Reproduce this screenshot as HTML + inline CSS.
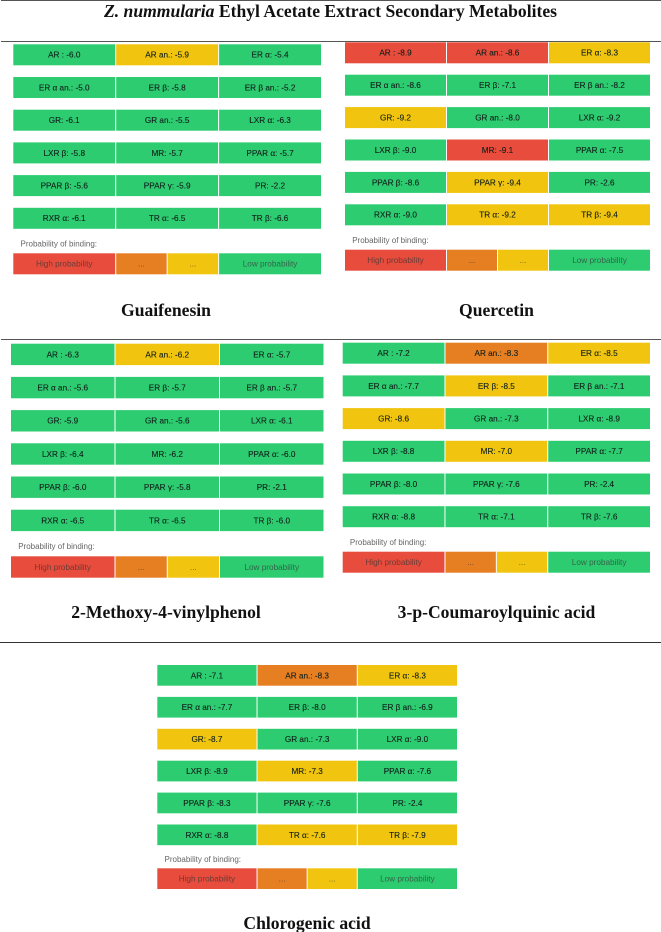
<!DOCTYPE html>
<html lang="en">
<head>
<meta charset="utf-8">
<title>Z. nummularia Ethyl Acetate Extract Secondary Metabolites</title>
<style>
html,body{margin:0;padding:0;background:#fff;width:661px;height:932px;overflow:hidden}
svg{display:block;filter:blur(.3px)}
.heading{font-family:"Liberation Serif",serif;font-weight:700;fill:#111;text-anchor:middle}
.cell-text{font-family:"Liberation Sans",sans-serif;font-size:8.2px;fill:#10201a;stroke:#10201a;stroke-width:.12px;text-anchor:middle}
.legend-text{font-family:"Liberation Sans",sans-serif;font-size:8.2px;fill:#333;fill-opacity:.68;text-anchor:middle}
.legend-title{font-family:"Liberation Sans",sans-serif;font-size:8px;fill:#666}
</style>
</head>
<body>
<svg id="figure" width="661" height="932" viewBox="0 0 661 932" xmlns="http://www.w3.org/2000/svg">
  <rect x="1" y="0" width="660" height="1" fill="#555"/>
  <text class="heading" x="330.5" y="17" font-size="17.6"><tspan font-style="italic">Z. nummularia</tspan> Ethyl Acetate Extract Secondary Metabolites</text>
  <rect x="1" y="41" width="660" height="1" fill="#555"/>
  <rect x="1" y="339" width="660" height="1" fill="#555"/>
  <rect x="0" y="642" width="661" height="1" fill="#333"/>
</svg>
<script>
const receptors = ["AR :","AR an.:","ER α:","ER α an.:","ER β:","ER β an.:","GR:","GR an.:","LXR α:","LXR β:","MR:","PPAR α:","PPAR β:","PPAR γ:","PR:","RXR α:","TR α:","TR β:"];
const compounds = ["Guaifenesin","Quercetin","2-Methoxy-4-vinylphenol","3-p-Coumaroylquinic acid","Chlorogenic acid"];

const guaifenesinScores = [-6.0,-5.9,-5.4,-5.0,-5.8,-5.2,-6.1,-5.5,-6.3,-5.8,-5.7,-5.7,-5.6,-5.9,-2.2,-6.1,-6.5,-6.6];
const quercetinScores = [-8.9,-8.6,-8.3,-8.6,-7.1,-8.2,-9.2,-8.0,-9.2,-9.0,-9.1,-7.5,-8.6,-9.4,-2.6,-9.0,-9.2,-9.4];
const methoxyScores = [-6.3,-6.2,-5.7,-5.6,-5.7,-5.7,-5.9,-5.6,-6.1,-6.4,-6.2,-6.0,-6.0,-5.8,-2.1,-6.5,-6.5,-6.0];
const coumaroylScores = [-7.2,-8.3,-8.5,-7.7,-8.5,-7.1,-8.6,-7.3,-8.9,-8.8,-7.0,-7.7,-8.0,-7.6,-2.4,-8.8,-7.1,-7.6];
const chlorogenicScores = [-7.1,-8.3,-8.3,-7.7,-8.0,-6.9,-8.7,-7.3,-9.0,-8.9,-7.3,-7.6,-8.3,-7.6,-2.4,-8.8,-7.6,-7.9];

const guaifenesinLevels = ["low","mid","low","low","low","low","low","low","low","low","low","low","low","low","low","low","low","low"];
const quercetinLevels = ["high","high","mid","low","low","low","mid","low","low","low","high","low","low","mid","low","low","mid","mid"];
const methoxyLevels = ["low","mid","low","low","low","low","low","low","low","low","low","low","low","low","low","low","low","low"];
const coumaroylLevels = ["low","midHigh","mid","low","mid","low","mid","low","low","low","mid","low","low","low","low","low","low","low"];
const chlorogenicLevels = ["low","midHigh","mid","low","low","low","mid","low","low","low","mid","low","low","low","low","low","mid","mid"];

const legendLabels = ["High probability","...","...","Low probability"];
const legendLevels = ["high","midHigh","mid","low"];
const legendHeading = "Probability of binding:";

const allScores = [guaifenesinScores,quercetinScores,methoxyScores,coumaroylScores,chlorogenicScores];
const allLevels = [guaifenesinLevels,quercetinLevels,methoxyLevels,coumaroylLevels,chlorogenicLevels];

const levelColor = {high:"#e74c3c",midHigh:"#e67e22",mid:"#f1c40f",low:"#2ecc71"};

/* Layout of each panel, separate from the data above */
const panelLayout = [
  {left:13.3,right:321,top:44.3,step:32.7,cellH:21,legendTop:253.3,labelY:246.3,titleX:166,titleY:316},
  {left:345,right:650,top:42.3,step:32.4,cellH:21,legendTop:249.7,labelY:243,titleX:496.5,titleY:316},
  {left:11,right:323.5,top:343.7,step:33.2,cellH:21.4,legendTop:556.3,labelY:549,titleX:166,titleY:618},
  {left:342.7,right:650,top:342.7,step:32.7,cellH:21,legendTop:551.7,labelY:545,titleX:496.5,titleY:618},
  {left:157.3,right:457,top:665,step:31.9,cellH:20.7,legendTop:868.3,labelY:862,titleX:307,titleY:929}
];

const svgNS = "http://www.w3.org/2000/svg";
const figure = document.getElementById("figure");
const GAP = 1;

function slug(s){ return s.toLowerCase().replace(/[^a-z0-9]+/g,"-").replace(/^-|-$/g,""); }
function colX(p,col){ return p.left + col*(p.right-p.left+GAP)/3; }
function colW(p){ return (p.right-p.left+GAP)/3 - GAP; }
function rowY(p,row){ return p.top + row*p.step; }

function drawBox(group,x,y,w,h,color,name){
  const r = document.createElementNS(svgNS,"rect");
  r.setAttribute("x",x);
  r.setAttribute("y",y);
  r.setAttribute("width",w);
  r.setAttribute("height",h);
  r.setAttribute("fill",color);
  
  
  group.appendChild(r);
}
function drawText(group,x,y,str,cls,name,size){
  const t = document.createElementNS(svgNS,"text");
  t.setAttribute("x",x);
  t.setAttribute("y",y);
  t.setAttribute("class",cls);
  if(size){ t.setAttribute("font-size",size); }
  
  
  t.textContent = str;
  group.appendChild(t);
}

compounds.forEach(function(compound,pi){
  const p = panelLayout[pi];
  const base = slug(compound);
  const g = document.createElementNS(svgNS,"g");
  
  
  figure.appendChild(g);

  receptors.forEach(function(rec,i){
    const col = i%3, row = Math.floor(i/3);
    const x = colX(p,col), y = rowY(p,row), w = colW(p);
    const name = base+"-"+slug(rec);
    drawBox(g,x,y,w,p.cellH,levelColor[allLevels[pi][i]],name+"-cell");
    drawText(g,x+w/2,y+p.cellH/2+2.9,rec+" "+allScores[pi][i].toFixed(1),"cell-text",name+"-label");
  });

  drawText(g,p.left+7.2,p.labelY,legendHeading,"legend-title",base+"-legend-heading");

  const w = colW(p), h = p.cellH, ly = p.legendTop;
  const half = (w-GAP)/2;
  const segX = [colX(p,0),colX(p,1),colX(p,1)+half+GAP,colX(p,2)];
  const segW = [w,half,half,w];
  legendLabels.forEach(function(lbl,i){
    const name = base+"-legend-"+i;
    drawBox(g,segX[i],ly,segW[i],h,levelColor[legendLevels[i]],name+"-swatch");
    drawText(g,segX[i]+segW[i]/2,ly+h/2+2.9,lbl,"legend-text",name+"-label");
  });

  drawText(g,p.titleX,p.titleY,compound,"heading",base+"-title","17.6");
});
</script>
</body>
</html>
